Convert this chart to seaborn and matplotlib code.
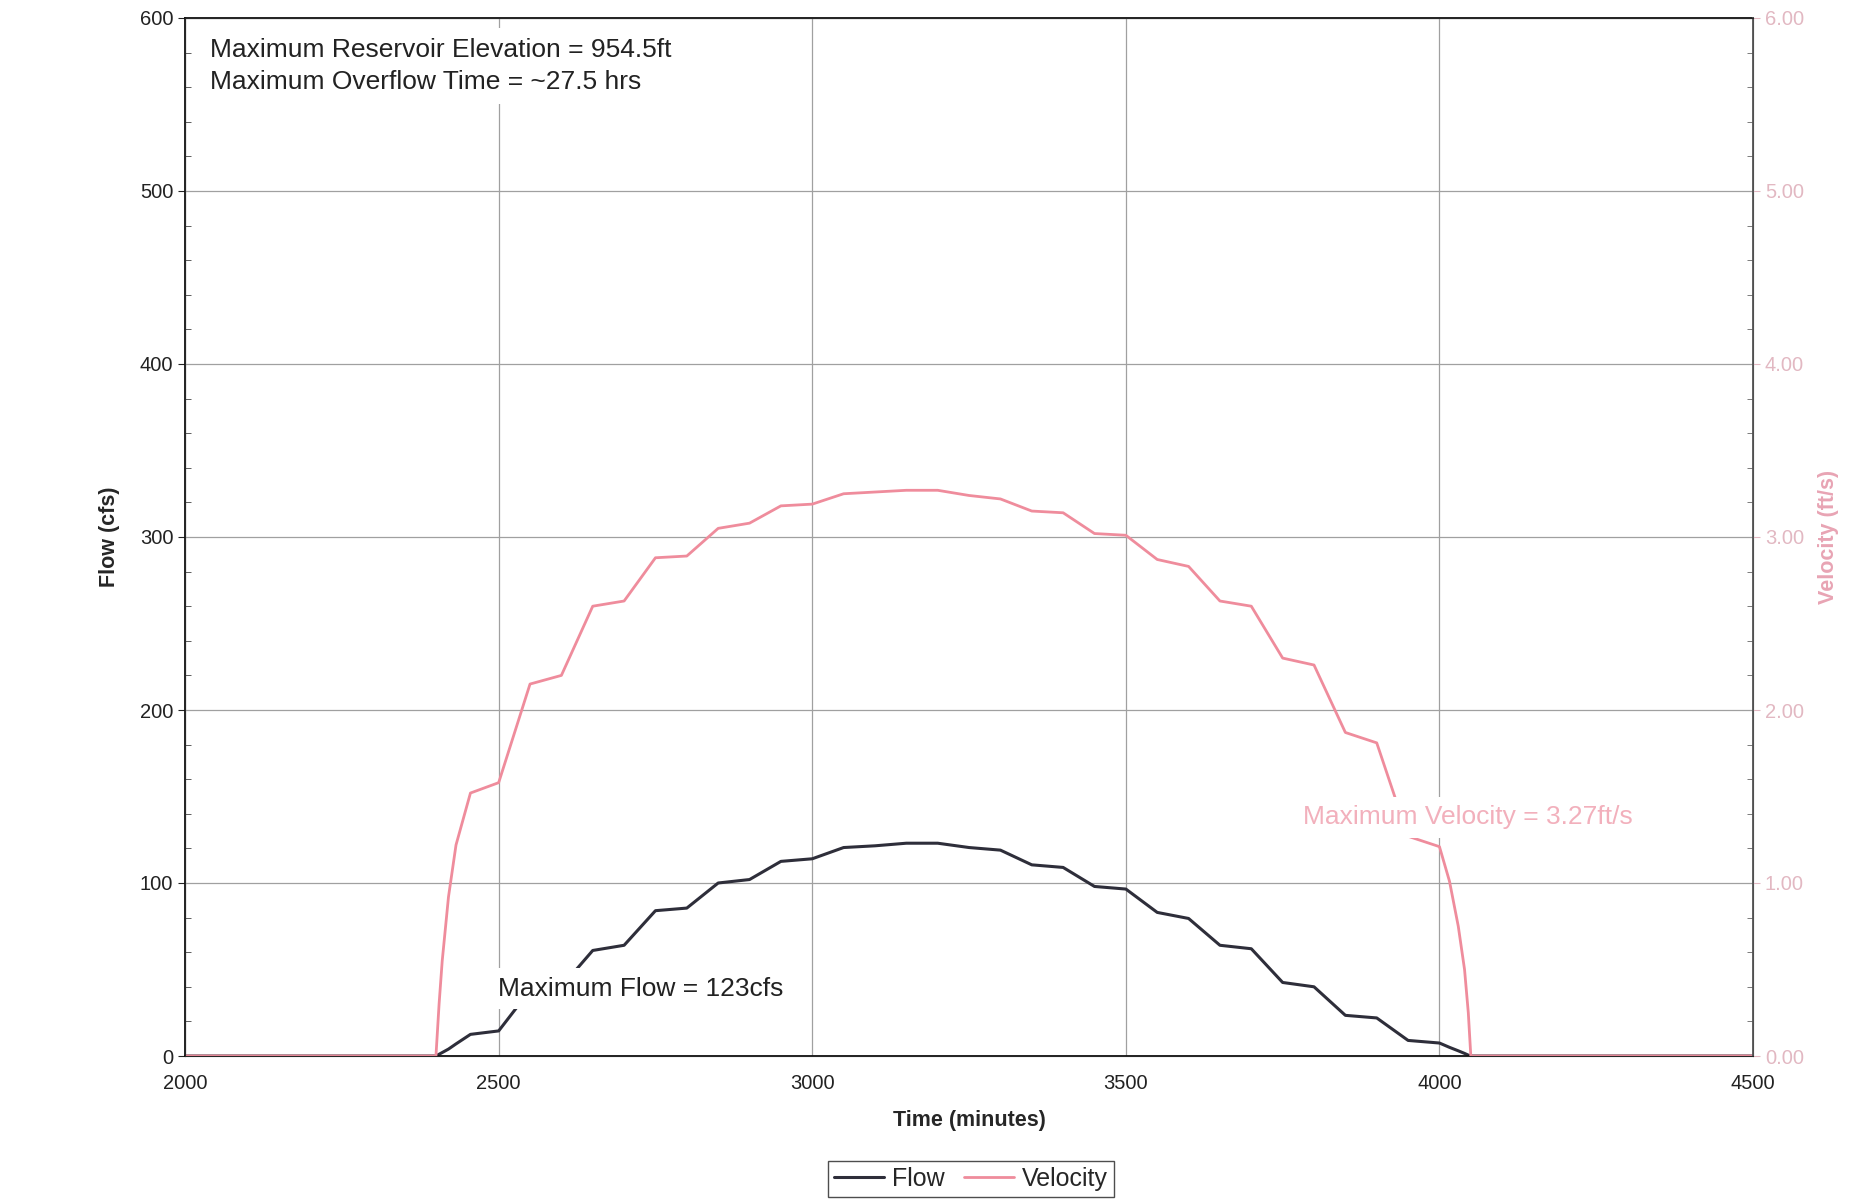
import pandas as pd
import seaborn as sns
import matplotlib.pyplot as plt
from matplotlib.ticker import MultipleLocator

# ------------------- Values -------------------
time_min = [2000, 2400, 2405, 2410, 2420, 2432, 2455, 2500, 2550, 2600, 2650, 2700,
            2750, 2800, 2850, 2900, 2950, 3000, 3050, 3100, 3150, 3200, 3250, 3300,
            3350, 3400, 3450, 3500, 3550, 3600, 3650, 3700, 3750, 3800, 3850, 3900,
            3950, 4000, 4016, 4030, 4040, 4046, 4050, 4500]

flow_cfs = [0, 0, 1, 2, 4, 7, 12.5, 14.5, 38, 40, 61, 64,
            84, 85.5, 100, 102, 112.5, 114, 120.5, 121.5, 123, 123, 120.5, 119,
            110.5, 109, 98, 96.5, 83, 79.5, 64, 62, 42.5, 40, 23.5, 22,
            9, 7.5, 5, 3, 1.5, 0.5, 0, 0]

velocity_fps = [0, 0, 0.3, 0.55, 0.92, 1.22, 1.52, 1.58, 2.15, 2.20, 2.60, 2.63,
                2.88, 2.89, 3.05, 3.08, 3.18, 3.19, 3.25, 3.26, 3.27, 3.27, 3.24, 3.22,
                3.15, 3.14, 3.02, 3.01, 2.87, 2.83, 2.63, 2.60, 2.30, 2.26, 1.87, 1.81,
                1.27, 1.21, 1.01, 0.75, 0.5, 0.25, 0, 0]

df = pd.DataFrame({'Time': time_min, 'Flow': flow_cfs, 'Velocity': velocity_fps})

flow_color = '#2e2e3a'
vel_color = '#ef8c9c'

# ------------------- Style -------------------
sns.set_style('white')
plt.rcParams['font.family'] = ['Liberation Sans', 'DejaVu Sans']

fig = plt.figure(figsize=(18.6, 12), dpi=100)
ax = fig.add_axes([0.0995, 0.12, 0.843, 0.865])
ax2 = ax.twinx()

# ------------------- Lines -------------------
sns.lineplot(data=df, x='Time', y='Flow', ax=ax, color=flow_color, lw=2.2,
             estimator=None, sort=False, label='Flow')
sns.lineplot(data=df, x='Time', y='Velocity', ax=ax2, color=vel_color, lw=2.0,
             estimator=None, sort=False, label='Velocity')
ax.get_legend().remove()
ax2.get_legend().remove()

# ------------------- Axes -------------------
ax.set_xlim(2000, 4500)
ax.set_ylim(0, 600)
ax2.set_ylim(0, 6)
ax.xaxis.set_major_locator(MultipleLocator(500))
ax.xaxis.set_minor_locator(MultipleLocator(100))
ax.yaxis.set_major_locator(MultipleLocator(100))
ax.yaxis.set_minor_locator(MultipleLocator(20))
ax2.yaxis.set_major_locator(MultipleLocator(1))
ax2.yaxis.set_minor_locator(MultipleLocator(0.2))
ax2.set_yticklabels([f'{v:.2f}' for v in ax2.get_yticks()])

ax.grid(True, which='major', color='#a0a0a0', lw=0.9)
ax2.grid(False)

ax.tick_params(axis='both', which='major', labelsize=14.5, direction='out', length=5,
               colors='#222222')
ax.tick_params(axis='x', which='major', pad=8)
ax.tick_params(axis='both', which='minor', direction='in', length=4, color='#444444')
ax2.tick_params(axis='y', which='major', labelsize=14.5, direction='out', length=5,
                colors='#e2b8c2')
ax2.tick_params(axis='y', which='minor', direction='in', length=4, color='#666666')

for s in ['left', 'bottom', 'top']:
    ax.spines[s].set_color('#111111')
    ax.spines[s].set_linewidth(1.3)
ax2.spines['right'].set_color('#555555')
ax2.spines['right'].set_linewidth(1.3)

ax.set_xlabel('Time (minutes)', fontsize=15.5, fontweight='bold', labelpad=12)
ax.set_ylabel('Flow (cfs)', fontsize=15.5, fontweight='bold', labelpad=14)
ax2.set_ylabel('Velocity (ft/s)', fontsize=15.5, fontweight='bold', color='#e8a4b4',
               labelpad=10)

# ------------------- Annotations -------------------
ax.text(0.016, 0.981, 'Maximum Reservoir Elevation = 954.5ft\nMaximum Overflow Time = ~27.5 hrs',
        transform=ax.transAxes, ha='left', va='top', fontsize=19, linespacing=1.45,
        color='#222222', bbox=dict(facecolor='white', edgecolor='none', pad=7), zorder=5)
ax.text(2726, 39, 'Maximum Flow = 123cfs', ha='center', va='center', fontsize=19,
        color='#222222', bbox=dict(facecolor='white', edgecolor='none', pad=6), zorder=5)
ax2.text(4046, 1.38, 'Maximum Velocity = 3.27ft/s', ha='center', va='center', fontsize=19,
         color='#f2b0bc', bbox=dict(facecolor='white', edgecolor='none', pad=6), zorder=5)

# ------------------- Legend -------------------
handles = ax.get_lines()[:1] + ax2.get_lines()[:1]
fig.legend(handles, ['Flow', 'Velocity'], loc='lower center', bbox_to_anchor=(0.522, -0.008),
           ncol=2, fontsize=18, frameon=True, fancybox=False, edgecolor='#222222',
           handlelength=2.0, handletextpad=0.3, columnspacing=0.8, borderpad=0.25)

fig.savefig('out.png', dpi=100)
